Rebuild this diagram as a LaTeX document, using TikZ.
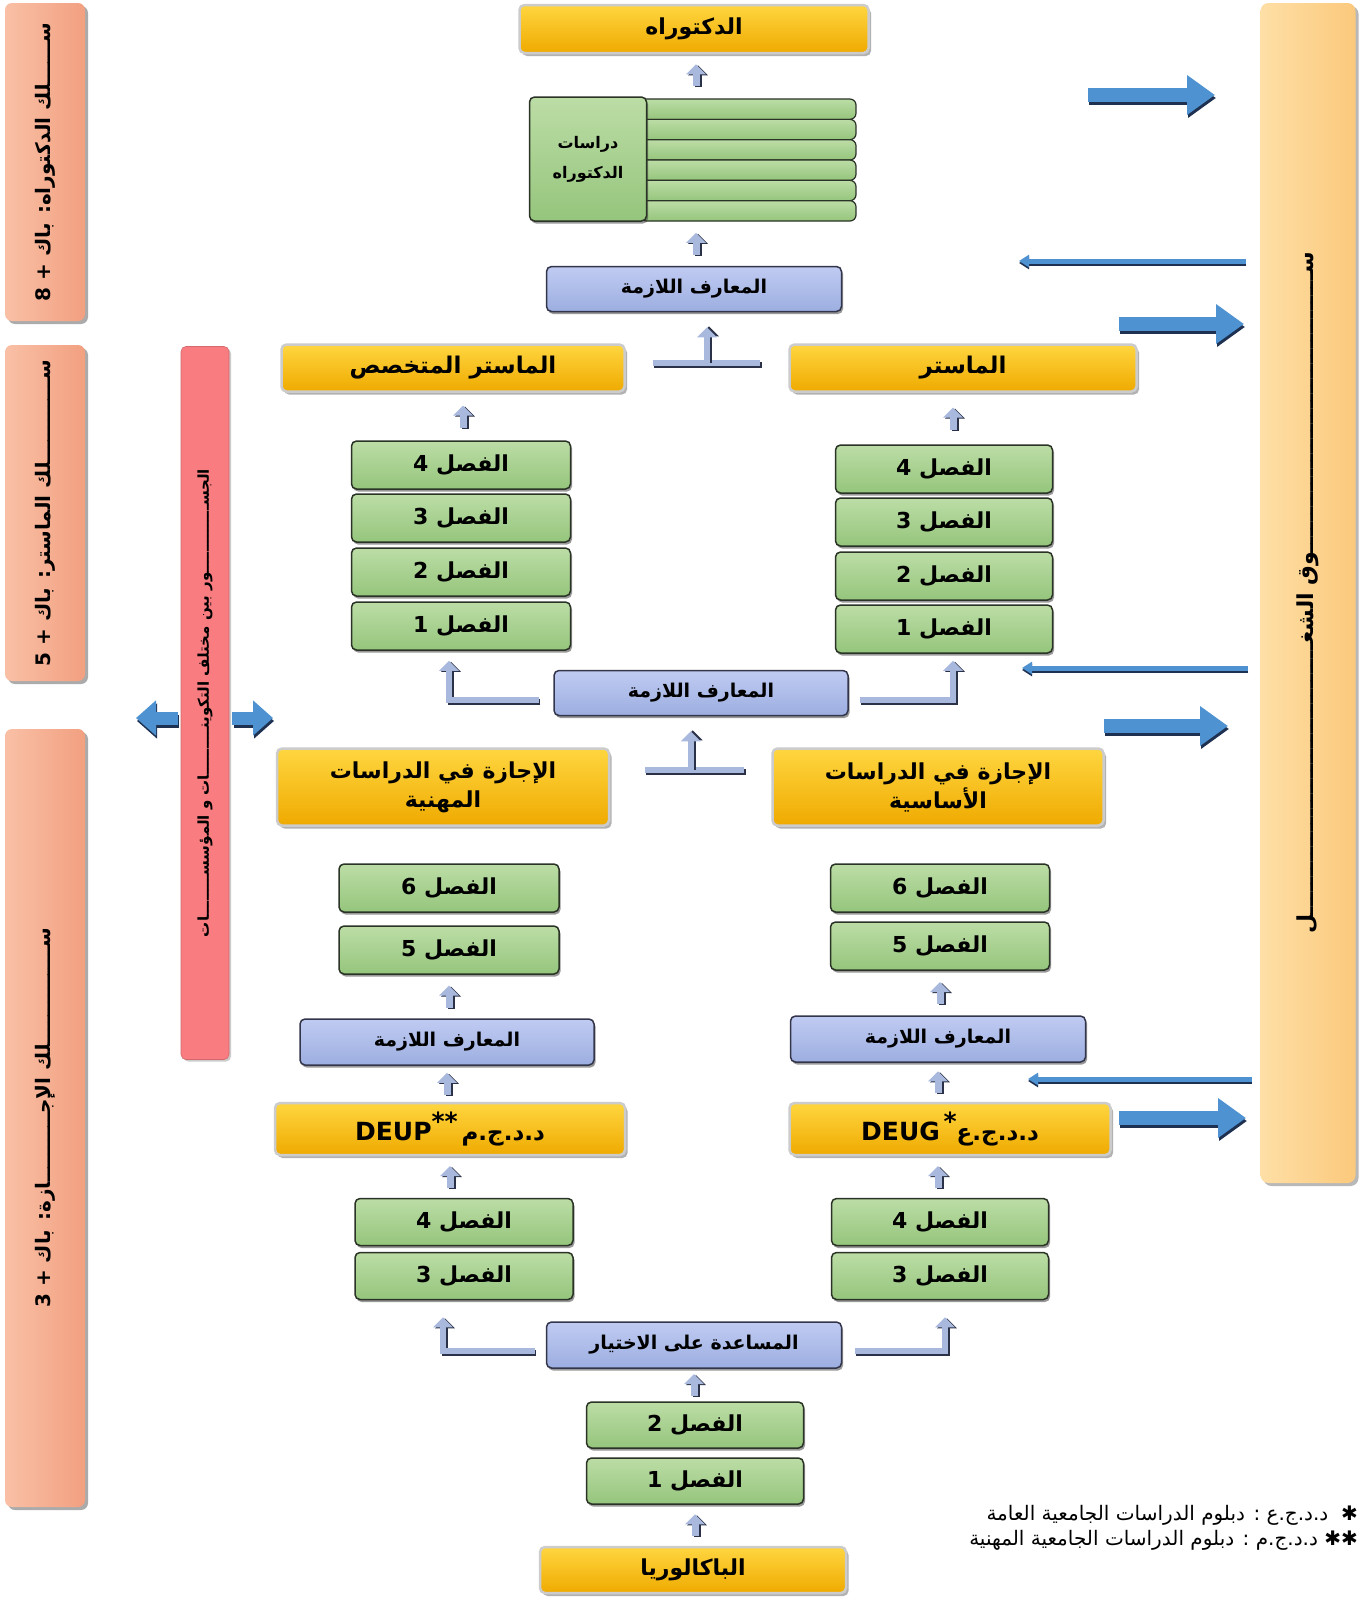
\documentclass[tikz,border=0pt]{standalone}
\usepackage{fontspec}
\usepackage{graphicx}
\setmainfont{DejaVu Sans}
\newfontfamily\ar[Script=Arabic]{DejaVu Sans}
\TeXXeTstate=1
\usetikzlibrary{shadows,arrows.meta,calc}
\definecolor{yTop}{HTML}{FFD640}
\definecolor{yBot}{HTML}{EFAA00}
\definecolor{gTop}{HTML}{BCDDA6}
\definecolor{gBot}{HTML}{95C57C}
\definecolor{gEdge}{HTML}{2A3326}
\definecolor{bTop}{HTML}{C0CBF2}
\definecolor{bBot}{HTML}{9CAEE0}
\definecolor{bEdge}{HTML}{33364A}
\definecolor{salL}{HTML}{F9C0A6}
\definecolor{salR}{HTML}{F2A080}
\definecolor{redB}{HTML}{F87C80}
\definecolor{mkL}{HTML}{FEDFA6}
\definecolor{mkR}{HTML}{FBC97C}
\definecolor{arB}{HTML}{4E92D2}
\definecolor{arD}{HTML}{1E3150}
\definecolor{upL}{HTML}{A9B9DD}
\definecolor{upD}{HTML}{2B3146}
\ExplSyntaxOn
\box_new:N \g_kash_box
\cs_new:Npn \kash #1
  { \prg_replicate:nn { \fp_eval:n { round( #1 / \dim_to_decimal:n { \box_wd:N \g_kash_box } ) } } { ـ } }
\cs_new_protected:Npn \kashmeasure { \hbox_gset:Nn \g_kash_box { ـ } }
\ExplSyntaxOff
\newcommand\AR[1]{{\ar\kashmeasure\beginR #1\endR}}
\newcommand\UA[3][0]{%
  \coordinate (ua) at ($(#3.south)!0.5!(#3.south|-#2.north)+(#1,0)$);
  \draw[upsh] ($(ua)+(2,12)$) -- ($(ua)+(2,-10)$);
  \draw[upst] ($(ua)+(0,11)$) -- ($(ua)+(0,-11)$);
}
\tikzset{
  every node/.style={inner sep=0pt},
  basebox/.style={rounded corners=5pt, text=black, align=center},
  ybox/.style={basebox, top color=yTop, bottom color=yBot, draw=gray!40, line width=2.5pt,
    drop shadow={shadow xshift=2.5pt, shadow yshift=-3pt, fill=black!60},
    font=\ar\bfseries\fontsize{23}{29}\selectfont},
  gbox/.style={basebox, top color=gTop, bottom color=gBot, draw=gEdge, line width=1.5pt,
    drop shadow={shadow xshift=1.5pt, shadow yshift=-2.5pt, fill=black!80},
    minimum width=218pt, minimum height=47pt, font=\ar\bfseries\fontsize{22}{26}\selectfont},
  bbox/.style={basebox, top color=bTop, bottom color=bBot, draw=bEdge, line width=1.5pt,
    drop shadow={shadow xshift=1.5pt, shadow yshift=-2.5pt, fill=black!80},
    minimum width=295pt, minimum height=45pt, font=\ar\bfseries\fontsize{19}{23}\selectfont},
  strip/.style={rounded corners=6pt, top color=gTop, bottom color=gBot, draw=gEdge, line width=1.2pt,
    minimum width=216pt, minimum height=20.3pt},
  salbox/.style={rounded corners=7pt, left color=salL, right color=salR,
    drop shadow={shadow xshift=3pt, shadow yshift=-3pt, fill=black!65}, minimum width=80pt},
  redbox/.style={rounded corners=5pt, fill=redB, draw=redB!85!black, line width=0.6pt,
    drop shadow={shadow xshift=2pt, shadow yshift=-2pt, fill=black!40}},
  mkbox/.style={rounded corners=8pt, left color=mkL, right color=mkR,
    drop shadow={shadow xshift=3pt, shadow yshift=-3pt, fill=black!55}},
  sidetxt/.style={rotate=90, font=\ar\bfseries\fontsize{20}{24}\selectfont},
  bigar/.style={line width=14pt, draw=arB, -{Triangle[width=38pt,length=28pt]}},
  bigsh/.style={line width=14pt, draw=arD, -{Triangle[width=38pt,length=28pt]}},
  thinar/.style={line width=5pt, draw=arB, -{Triangle[width=12pt,length=10pt]}},
  thinsh/.style={line width=5pt, draw=arD, -{Triangle[width=12pt,length=10pt]}},
  upst/.style={line width=7pt, draw=upL, -{Triangle[width=19pt,length=10pt]}},
  upsh/.style={line width=7pt, draw=upD, -{Triangle[width=19pt,length=10pt]}},
  brk/.style={line width=6pt, draw=upL, -{Triangle[width=19pt,length=10pt]}},
  brksh/.style={line width=6pt, draw=upD, -{Triangle[width=19pt,length=10pt]}},
  brkline/.style={line width=6pt, draw=upL},
  brklinesh/.style={line width=6pt, draw=upD},
}
\begin{document}
\begin{tikzpicture}[x=1pt,y=-1pt]
\useasboundingbox (0,0) rectangle (1364,1598);
\fill[white] (0,0) rectangle (1364,1598);

% side columns
\node[salbox, minimum height=318pt] (L1) at (45,162) {};
\node[sidetxt] (L1t) at (L1.center) {\AR{سـ\kash{28}ـلك الدكتوراه: باك + 8}};
\node[salbox, minimum height=336pt] (L2) at (45,513) {};
\node[sidetxt] (L2t) at (L2.center) {\AR{سـ\kash{65}ـلك الماستر: باك + 5}};
\node[salbox, minimum height=778pt] (L3) at (45,1118) {};
\node[sidetxt] (L3t) at (L3.center) {\AR{سـ\kash{85}ـلك الإجـ\kash{55}ـازة: باك + 3}};

\node[redbox, minimum width=48pt, minimum height=713pt] (red) at (205,703) {};
\node[rotate=90, font=\ar\bfseries\fontsize{15}{18}\selectfont] (redt) at (red.center)
  {\AR{الجسـ\kash{55}ـور بين مختلف التكوينـ\kash{35}ـات و المؤسسـ\kash{30}ـات}};

\node[mkbox, minimum width=95pt, minimum height=1180pt] (mk) at (1308,593) {};
\node[rotate=90, font=\ar\bfseries\fontsize{22}{26}\selectfont] (mkt) at (mk.center)
  {\AR{سـ\kash{262}ـوق الشغـ\kash{252}ـل}};

% doctorate
\node[ybox, minimum width=349pt, minimum height=48pt, font=\ar\bfseries\fontsize{22}{26}\selectfont] (doct) at (694,29) {\AR{الدكتوراه}};
\foreach \i in {0,...,5} \node[strip] (s\i) at (748,109.2+20.33*\i) {};
\node[gbox, minimum width=117pt, minimum height=124pt, font=\ar\bfseries\fontsize{16}{30}\selectfont] (stud) at (588,159) {\AR{دراسات}\\\AR{الدكتوراه}};
\node[bbox] (m1) at (694,289) {\AR{المعارف اللازمة}};

% master
\node[ybox, minimum width=343pt, minimum height=47pt] (masterS) at (453,368) {\AR{الماستر المتخصص}};
\node[ybox, minimum width=347pt, minimum height=47pt] (masterR) at (963,368) {\AR{الماستر}};
\node[gbox, minimum width=219pt, minimum height=48pt] (fL4) at (461,465) {\AR{الفصل 4}};
\node[gbox, minimum width=219pt, minimum height=48pt] (fL3) at (461,518) {\AR{الفصل 3}};
\node[gbox, minimum width=219pt, minimum height=48pt] (fL2) at (461,572) {\AR{الفصل 2}};
\node[gbox, minimum width=219pt, minimum height=48pt] (fL1) at (461,626) {\AR{الفصل 1}};
\node[gbox, minimum width=217pt, minimum height=48pt] (fR4) at (944,469) {\AR{الفصل 4}};
\node[gbox, minimum width=217pt, minimum height=48pt] (fR3) at (944,522) {\AR{الفصل 3}};
\node[gbox, minimum width=217pt, minimum height=48pt] (fR2) at (944,576) {\AR{الفصل 2}};
\node[gbox, minimum width=217pt, minimum height=48pt] (fR1) at (944,629) {\AR{الفصل 1}};
\node[bbox, minimum width=294pt] (m2) at (701,693) {\AR{المعارف اللازمة}};

% licence
\node[ybox, minimum width=332pt, minimum height=77pt, font=\ar\bfseries\fontsize{22}{29}\selectfont] (licP) at (443,787) {\AR{الإجازة في الدراسات}\\\AR{المهنية}};
\node[ybox, minimum width=331pt, minimum height=77pt, font=\ar\bfseries\fontsize{22}{29}\selectfont] (licF) at (938,787) {\AR{الإجازة في الدراسات}\\\AR{الأساسية}};
\node[gbox, minimum width=220pt, minimum height=48pt] (fL6) at (449,888) {\AR{الفصل 6}};
\node[gbox, minimum width=220pt, minimum height=48pt] (fL5) at (449,950) {\AR{الفصل 5}};
\node[gbox, minimum width=219pt, minimum height=48pt] (fR6) at (940,888) {\AR{الفصل 6}};
\node[gbox, minimum width=219pt, minimum height=48pt] (fR5) at (940,946) {\AR{الفصل 5}};
\node[bbox, minimum width=294pt, minimum height=46pt] (mL) at (447,1042) {\AR{المعارف اللازمة}};
\node[bbox, minimum width=295pt, minimum height=46pt] (mR) at (938,1039) {\AR{المعارف اللازمة}};
\node[ybox, minimum width=350pt, minimum height=52pt] (deup) at (450,1129)
  {{\rmfamily\bfseries\fontsize{25}{25}\selectfont DEUP}\raisebox{10pt}{\rmfamily\fontsize{25}{25}\selectfont **}\,\AR{د.د.ج.م}};
\node[ybox, minimum width=321pt, minimum height=52pt] (deug) at (950,1129)
  {{\rmfamily\bfseries\fontsize{25}{25}\selectfont DEUG}\,\raisebox{10pt}{\rmfamily\fontsize{25}{25}\selectfont *}\AR{د.د.ج.ع}};
\node[gbox] (bL4) at (464,1222) {\AR{الفصل 4}};
\node[gbox] (bL3) at (464,1276) {\AR{الفصل 3}};
\node[gbox, minimum width=217pt] (bR4) at (940,1222) {\AR{الفصل 4}};
\node[gbox, minimum width=217pt] (bR3) at (940,1276) {\AR{الفصل 3}};
\node[bbox, minimum height=46pt] (help) at (694,1345) {\AR{المساعدة على الاختيار}};
\node[gbox, minimum width=217pt, minimum height=46pt] (f2) at (695,1425) {\AR{الفصل 2}};
\node[gbox, minimum width=217pt, minimum height=46pt] (f1) at (695,1481) {\AR{الفصل 1}};
\node[ybox, minimum width=306pt, minimum height=46pt, font=\ar\bfseries\fontsize{22}{26}\selectfont] (bac) at (693,1570) {\AR{الباكالوريا}};

% small up arrows
\UA[2]{stud}{doct}
\UA[108]{m1}{stud}
\UA[10]{fL4}{masterS}
\UA[-10]{fR4}{masterR}
\UA{mL}{fL5}
\UA{mR}{fR5}
\UA{deup}{mL}
\UA{deug}{mR}
\UA{bL4}{deup}
\UA[-12]{bR4}{deug}
\UA{f2}{help}
\UA{bac}{f1}

% T connectors
\coordinate (t1) at ($(masterS.east)!0.5!(masterR.west)+(0,-5)$);
\draw[brklinesh] ($(masterS.east)+(28,-3)$) -- ($(masterR.west)+(-26,-3)$);
\draw[brkline] ($(masterS.east)+(27,-5)$) -- ($(masterR.west)+(-28,-5)$);
\draw[brksh, shorten >=14pt] ($(t1)+(2,0)$) -- ($(t1|-m1.south)+(2,0)$);
\draw[brk, shorten >=15pt] (t1) -- (t1|-m1.south);

\coordinate (t2) at ($(licP.east)!0.5!(licF.west)+(0,-17)$);
\draw[brklinesh] ($(licP.east)+(36,-15)$) -- ($(licF.west)+(-25,-15)$);
\draw[brkline] ($(licP.east)+(35,-17)$) -- ($(licF.west)+(-27,-17)$);
\draw[brksh, shorten >=14pt] ($(t2)+(2,0)$) -- ($(t2|-m2.south)+(2,0)$);
\draw[brk, shorten >=15pt] (t2) -- (t2|-m2.south);

% bracket connectors
\draw[brksh] ($(m2.west)+(-13,9)$) -| ($(fL1.south)+(-10,11)$);
\draw[brk] ($(m2.west)+(-14,7)$) -| ($(fL1.south)+(-12,10)$);
\draw[brksh] ($(m2.east)+(12,9)$) -| ($(fR1.south)+(11,8)$);
\draw[brk] ($(m2.east)+(11,7)$) -| ($(fR1.south)+(9,7)$);
\draw[brksh] ($(help.west)+(-10,8)$) -| ($(bL3.south)+(-19,18)$);
\draw[brk] ($(help.west)+(-11,6)$) -| ($(bL3.south)+(-21,17)$);
\draw[brksh] ($(help.east)+(14,8)$) -| ($(bR3.south)+(7,18)$);
\draw[brk] ($(help.east)+(13,6)$) -| ($(bR3.south)+(5,17)$);

% market arrows
\coordinate (a1s) at (1088,95);  \coordinate (a1e) at (1215,95);
\coordinate (b1s) at (1246,261); \coordinate (b1e) at (1019,261);
\coordinate (a2s) at (1119,324); \coordinate (a2e) at (1244,324);
\coordinate (b2s) at (1248,668); \coordinate (b2e) at (1022,668);
\coordinate (a3s) at (1104,726); \coordinate (a3e) at (1228,726);
\coordinate (b3s) at (1252,1079); \coordinate (b3e) at (1028,1079);
\coordinate (a4s) at (1119,1118); \coordinate (a4e) at (1246,1118);
\foreach \s/\e in {a1s/a1e,a2s/a2e,a3s/a3e,a4s/a4e}{
  \draw[bigsh] ($(\s)+(1,3)$) -- ($(\e)+(1,3)$);
  \draw[bigar] (\s) -- (\e);
}
\foreach \s/\e in {b1s/b1e,b2s/b2e,b3s/b3e}{
  \draw[thinsh] ($(\s)+(0,2)$) -- ($(\e)+(0,2)$);
  \draw[thinar] (\s) -- (\e);
}

% bridge arrows
\coordinate (rl) at (136,718); \coordinate (rr) at (273,718);
\draw[bigsh, line width=13pt, -{Triangle[width=34pt,length=20pt]}] ($(red.west|-rl)+(-2,3)$) -- ($(rl)+(1,3)$);
\draw[bigar, line width=13pt, -{Triangle[width=34pt,length=20pt]}] ($(red.west|-rl)+(-3,0)$) -- (rl);
\draw[bigsh, line width=13pt, -{Triangle[width=34pt,length=20pt]}] ($(red.east|-rr)+(5,3)$) -- ($(rr)+(1,3)$);
\draw[bigar, line width=13pt, -{Triangle[width=34pt,length=20pt]}] ($(red.east|-rr)+(3,0)$) -- (rr);

% footnotes
\node[anchor=east, font=\ar\fontsize{20}{23}\selectfont] (fn1) at (1358,1515) {\AR{✱\ \ د.د.ج.ع : دبلوم الدراسات الجامعية العامة}};
\node[anchor=east, font=\ar\fontsize{20}{23}\selectfont] (fn2) at (1358,1540) {\AR{✱✱ د.د.ج.م : دبلوم الدراسات الجامعية المهنية}};
\end{tikzpicture}
\end{document}
